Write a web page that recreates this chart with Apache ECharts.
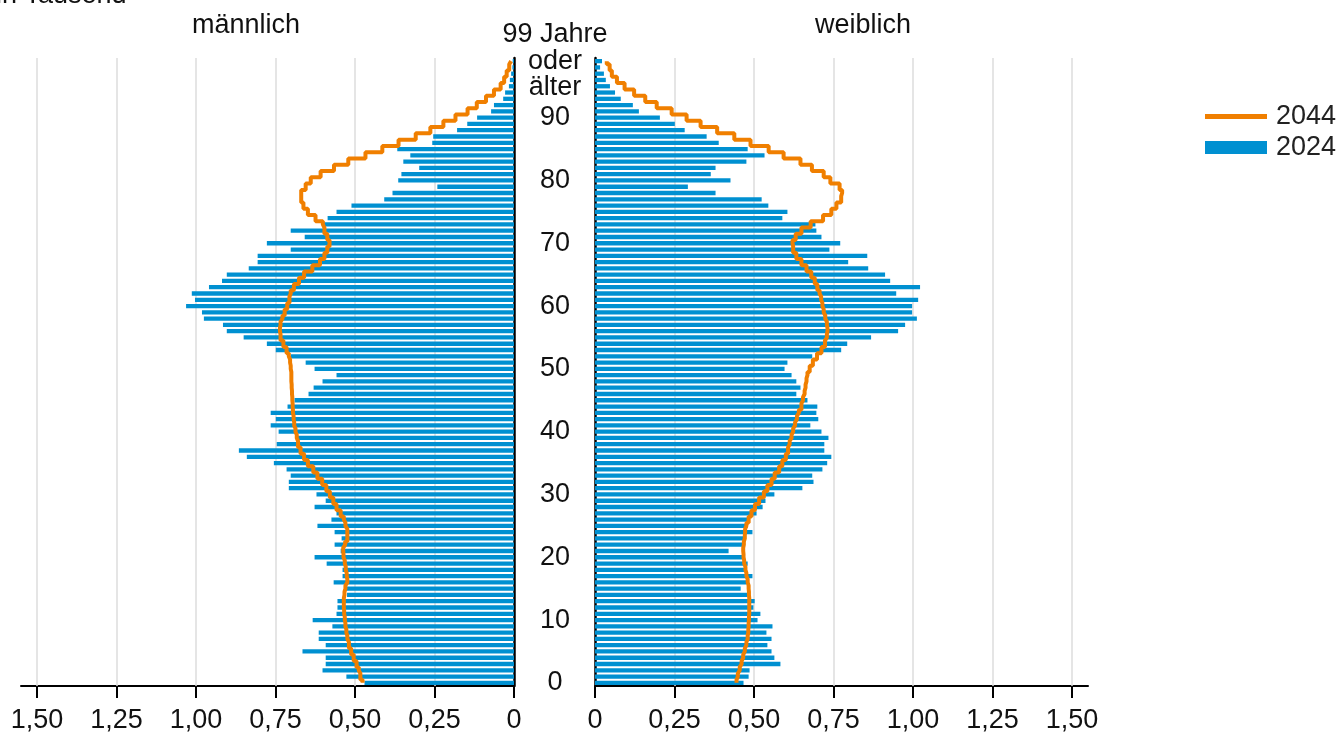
<!DOCTYPE html>
<html><head><meta charset="utf-8">
<script src="https://cdn.jsdelivr.net/npm/echarts@6/dist/echarts.min.js"></script>
<style>html,body{margin:0;padding:0;background:#fff}#c{width:1336px;height:734px}</style>
</head><body><div id="c"></div>
<script>
// Ages 0 .. 99 (99 = "99 Jahre oder älter")
const ages = ['0','1','2','3','4','5','6','7','8','9','10','11','12','13','14','15','16','17','18','19',
'20','21','22','23','24','25','26','27','28','29','30','31','32','33','34','35','36','37','38','39',
'40','41','42','43','44','45','46','47','48','49','50','51','52','53','54','55','56','57','58','59',
'60','61','62','63','64','65','66','67','68','69','70','71','72','73','74','75','76','77','78','79',
'80','81','82','83','84','85','86','87','88','89','90','91','92','93','94','95','96','97','98','99'];

const tickValues = [0, 0.25, 0.5, 0.75, 1, 1.25, 1.5];
const gridValues = [0.25, 0.5, 0.75, 1, 1.25, 1.5];

// in Tausend, index = age
const male2024 = [0.470,0.527,0.602,0.592,0.592,0.665,0.592,0.614,0.614,0.571,
0.633,0.558,0.555,0.555,0.525,0.533,0.567,0.539,0.539,0.589,
0.627,0.545,0.564,0.542,0.564,0.618,0.574,0.558,0.627,0.592,
0.621,0.708,0.708,0.702,0.715,0.755,0.840,0.865,0.746,0.679,
0.740,0.765,0.749,0.765,0.712,0.690,0.646,0.630,0.602,0.558,
0.627,0.655,0.702,0.749,0.777,0.850,0.903,0.915,0.975,0.981,
1.031,1.003,1.013,0.959,0.918,0.903,0.834,0.806,0.806,0.702,
0.777,0.658,0.702,0.602,0.586,0.558,0.511,0.408,0.382,0.241,
0.364,0.354,0.298,0.348,0.326,0.367,0.257,0.254,0.179,0.147,
0.116,0.072,0.063,0.034,0.028,0.016,0.013,0.009,0.005,0.004];

const male2044 = [0.476,0.483,0.488,0.495,0.504,0.512,0.519,0.524,0.527,0.530,
0.532,0.534,0.535,0.535,0.533,0.530,0.524,0.526,0.529,0.532,
0.536,0.537,0.531,0.524,0.524,0.530,0.535,0.545,0.558,0.568,
0.579,0.590,0.603,0.618,0.631,0.648,0.660,0.671,0.679,0.683,
0.687,0.691,0.693,0.695,0.696,0.697,0.698,0.699,0.700,0.700,
0.702,0.704,0.708,0.715,0.725,0.734,0.736,0.734,0.728,0.721,
0.713,0.706,0.702,0.692,0.676,0.660,0.634,0.610,0.596,0.587,
0.580,0.587,0.596,0.601,0.624,0.648,0.662,0.669,0.669,0.655,
0.639,0.608,0.566,0.521,0.467,0.414,0.363,0.309,0.263,0.222,
0.184,0.146,0.117,0.088,0.063,0.042,0.031,0.023,0.015,0.009];

const female2024 = [0.467,0.483,0.486,0.583,0.564,0.555,0.542,0.555,0.539,0.558,
0.511,0.520,0.498,0.502,0.480,0.458,0.476,0.495,0.473,0.480,
0.468,0.420,0.468,0.468,0.495,0.480,0.480,0.508,0.527,0.536,
0.564,0.652,0.687,0.683,0.715,0.730,0.743,0.721,0.721,0.734,
0.712,0.677,0.702,0.696,0.699,0.668,0.633,0.646,0.633,0.618,
0.596,0.605,0.683,0.774,0.793,0.868,0.953,0.975,1.012,0.997,
0.997,1.016,0.947,1.022,0.928,0.912,0.859,0.796,0.856,0.737,
0.771,0.712,0.696,0.693,0.589,0.605,0.545,0.524,0.379,0.292,
0.426,0.364,0.379,0.476,0.533,0.480,0.389,0.351,0.282,0.251,
0.204,0.138,0.119,0.081,0.063,0.047,0.034,0.028,0.016,0.022];

const female2044 = [0.445,0.449,0.455,0.461,0.466,0.471,0.476,0.480,0.482,0.483,
0.484,0.485,0.485,0.485,0.484,0.483,0.480,0.476,0.473,0.469,
0.467,0.466,0.468,0.471,0.472,0.476,0.483,0.492,0.503,0.516,
0.531,0.542,0.555,0.565,0.579,0.589,0.600,0.607,0.612,0.618,
0.623,0.629,0.635,0.641,0.649,0.654,0.659,0.662,0.665,0.668,
0.675,0.685,0.698,0.712,0.723,0.729,0.731,0.729,0.724,0.719,
0.715,0.711,0.706,0.699,0.691,0.680,0.665,0.649,0.633,0.623,
0.621,0.631,0.649,0.678,0.717,0.743,0.759,0.774,0.777,0.769,
0.740,0.719,0.682,0.646,0.593,0.546,0.489,0.438,0.384,0.332,
0.288,0.241,0.194,0.158,0.123,0.093,0.069,0.053,0.046,0.037];

const FONT = '"Liberation Sans", Arial, sans-serif';
const BLUE = '#0090D1';
const ORANGE = '#F07F00';
const TXT = '#111';

function fmt(v) { return v === 0 ? '0' : v.toFixed(2).replace('.', ','); }

function xAxis(gi, inverse) {
  return {
    type: 'value', gridIndex: gi, inverse: inverse, min: 0, max: 1.55,
    axisLine: { show: true, onZero: false, lineStyle: { color: '#000', width: 2 } },
    axisTick: { show: true, customValues: tickValues, length: 12, lineStyle: { color: '#000', width: 2 } },
    axisLabel: { customValues: tickValues, formatter: fmt, fontFamily: FONT, fontSize: 27, color: TXT, margin: 21 },
    splitLine: { show: false }
  };
}

function gridMark() {
  return {
    silent: true, symbol: 'none', z: 1, label: { show: false },
    lineStyle: { color: '#dcdcdc', width: 1.5, type: 'solid' },
    data: gridValues.map(v => ({ xAxis: v }))
  };
}

const chart = echarts.init(document.getElementById('c'), null, { renderer: 'canvas' });
chart.setOption({
  animation: false,
  backgroundColor: '#fff',
  textStyle: { fontFamily: FONT },
  grid: [
    { left: 21, right: 822, top: 58, bottom: 48, containLabel: false },
    { left: 595, right: 248, top: 58, bottom: 48, containLabel: false }
  ],
  xAxis: [xAxis(0, true), xAxis(1, false)],
  yAxis: [
    {
      type: 'category', gridIndex: 0, data: ages, position: 'right',
      axisLine: { show: true, onZero: false, lineStyle: { color: '#000', width: 2.5 } },
      axisTick: { show: false },
      axisLabel: {
        show: true, interval: (i) => i % 10 === 0 || i === 99,
        formatter: (v) => v === '99' ? '99 Jahre\noder\nälter' : v,
        align: 'center', margin: 41, fontFamily: FONT, fontSize: 27, color: TXT, lineHeight: 26.5
      },
      splitLine: { show: false }
    },
    {
      type: 'category', gridIndex: 1, data: ages, position: 'left',
      axisLine: { show: true, onZero: false, lineStyle: { color: '#000', width: 2.5 } },
      axisTick: { show: false }, axisLabel: { show: false }, splitLine: { show: false }
    }
  ],
  legend: [
    { data: ['2044'], left: 1200, top: 98, orient: 'vertical', icon: 'rect', itemWidth: 62, itemHeight: 5,
      textStyle: { fontFamily: FONT, fontSize: 27, color: '#222', padding: [0, 0, 0, 4] }, selectedMode: false },
    { data: ['2024'], left: 1200, top: 129, orient: 'vertical', icon: 'rect', itemWidth: 62, itemHeight: 13,
      textStyle: { fontFamily: FONT, fontSize: 27, color: '#222', padding: [0, 0, 0, 4] }, selectedMode: false }
  ],
  graphic: [
    { type: 'text', left: -4, top: -18, style: { text: 'in Tausend', font: '27px "Liberation Sans", Arial', fill: TXT } },
    { type: 'text', x: 246, y: 26, style: { text: 'männlich', font: '27px "Liberation Sans", Arial', fill: TXT, align: 'center', verticalAlign: 'middle' } },
    { type: 'text', x: 863, y: 26, style: { text: 'weiblich', font: '27px "Liberation Sans", Arial', fill: TXT, align: 'center', verticalAlign: 'middle' } }
  ],
  series: [
    { name: '2024', type: 'bar', xAxisIndex: 0, yAxisIndex: 0, data: male2024, barWidth: 4.3,
      itemStyle: { color: BLUE }, z: 2, markLine: gridMark() },
    { name: '2024', type: 'bar', xAxisIndex: 1, yAxisIndex: 1, data: female2024, barWidth: 4.3,
      itemStyle: { color: BLUE }, z: 2, markLine: gridMark() },
    { name: '2044', type: 'line', xAxisIndex: 0, yAxisIndex: 0, data: male2044, step: 'middle',
      showSymbol: false, symbol: 'none', z: 3, lineStyle: { color: ORANGE, width: 4 }, itemStyle: { color: ORANGE } },
    { name: '2044', type: 'line', xAxisIndex: 1, yAxisIndex: 1, data: female2044, step: 'middle',
      showSymbol: false, symbol: 'none', z: 3, lineStyle: { color: ORANGE, width: 4 }, itemStyle: { color: ORANGE } }
  ]
});
</script>
</body></html>
